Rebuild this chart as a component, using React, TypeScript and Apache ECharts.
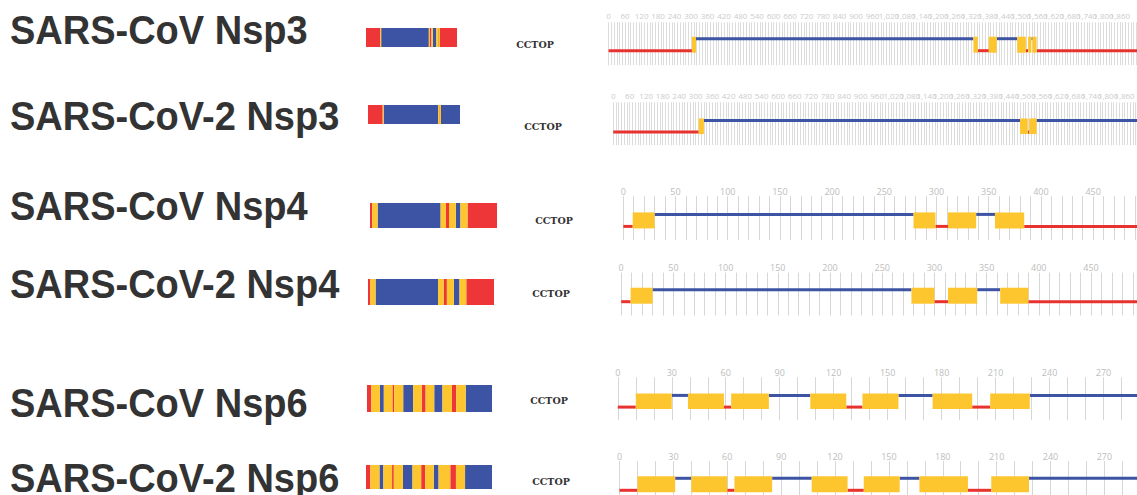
import React, { useEffect, useRef } from "react";
import * as echarts from "echarts";

// ---------- data ----------
const proteinNames = [
  "SARS-CoV Nsp3",
  "SARS-CoV-2 Nsp3",
  "SARS-CoV Nsp4",
  "SARS-CoV-2 Nsp4",
  "SARS-CoV Nsp6",
  "SARS-CoV-2 Nsp6",
];
const proteinLengths = [1922, 1945, 500, 500, 290, 290];
const methodLabel = "CCTOP";
const tickIntervals = [60, 60, 50, 50, 30, 30];
const minorSplits = [6, 6, 5, 5, 3, 3];

// topology segments: [start residue, end residue, state] i = inside, o = outside, m = membrane
type Seg = [number, number, string];
const covNsp3: Seg[] = [
  [0, 303, "i"], [303, 318, "m"], [318, 1327, "o"], [1327, 1343, "m"], [1343, 1383, "i"],
  [1383, 1412, "m"], [1412, 1486, "o"], [1486, 1518, "m"], [1518, 1526, "i"], [1526, 1538, "m"],
  [1538, 1542, "o"], [1542, 1557, "m"], [1557, 1922, "i"],
];
const cov2Nsp3: Seg[] = [
  [0, 311, "i"], [311, 330, "m"], [330, 1480, "o"], [1480, 1508, "m"], [1508, 1513, "i"],
  [1513, 1540, "m"], [1540, 1945, "o"],
];
const covNsp4: Seg[] = [
  [0, 9, "i"], [9, 30, "m"], [30, 278, "o"], [278, 299, "m"], [299, 311, "i"],
  [311, 338, "m"], [338, 356, "o"], [356, 384, "m"], [384, 500, "i"],
];
const cov2Nsp4: Seg[] = [
  [0, 9, "i"], [9, 30, "m"], [30, 278, "o"], [278, 300, "m"], [300, 313, "i"],
  [313, 341, "m"], [341, 363, "o"], [363, 390, "m"], [390, 500, "i"],
];
const covNsp6: Seg[] = [
  [0, 10, "i"], [10, 30, "m"], [30, 39, "o"], [39, 59, "m"], [59, 63, "i"],
  [63, 84, "m"], [84, 107, "o"], [107, 127, "m"], [127, 136, "i"], [136, 156, "m"],
  [156, 175, "o"], [175, 197, "m"], [197, 207, "i"], [207, 229, "m"], [229, 290, "o"],
];
const cov2Nsp6: Seg[] = [
  [0, 10, "i"], [10, 31, "m"], [31, 40, "o"], [40, 60, "m"], [60, 64, "i"],
  [64, 85, "m"], [85, 107, "o"], [107, 127, "m"], [127, 136, "i"], [136, 156, "m"],
  [156, 167, "o"], [167, 194, "m"], [194, 207, "i"], [207, 228, "m"], [228, 290, "o"],
];
const topologies = [covNsp3, cov2Nsp3, covNsp4, cov2Nsp4, covNsp6, cov2Nsp6];

// ---------- layout (pixels) ----------
const W = 1137;
const H = 495;
const layout = [
  { nameY: 30.1, barX: 366, barW: 91, barY: 28, barH: 19, tagX: 535, tagY: 44, x0: 608.6, ppr: 0.2749, tTop: 22.3, tBot: 65.1, blueY: 38.7, redY: 50.7, lblSize: 8, lblMargin: 2.6, lblColor: "#cccccc", gridColor: "#dcdcdc" },
  { nameY: 116.3, barX: 368, barW: 92, barY: 105, barH: 19, tagX: 543, tagY: 126.5, x0: 613.2, ppr: 0.2749, tTop: 102.3, tBot: 145, blueY: 120.4, redY: 132.1, lblSize: 8, lblMargin: 2.6, lblColor: "#cccccc", gridColor: "#dcdcdc" },
  { nameY: 206.3, barX: 370, barW: 127, barY: 203, barH: 25, tagX: 554, tagY: 220, x0: 623.3, ppr: 1.044, tTop: 196.2, tBot: 240.1, blueY: 214.4, redY: 226.4, lblSize: 9, lblMargin: 0.5, lblColor: "#bdbdbd", gridColor: "#d6d6d6" },
  { nameY: 283.8, barX: 368, barW: 126, barY: 279, barH: 26, tagX: 551, tagY: 293.5, x0: 621.2, ppr: 1.044, tTop: 272.6, tBot: 315.4, blueY: 289.7, redY: 301.7, lblSize: 9, lblMargin: 0.5, lblColor: "#bdbdbd", gridColor: "#d6d6d6" },
  { nameY: 403, barX: 367, barW: 125, barY: 385, barH: 27, tagX: 549, tagY: 400, x0: 617.8, ppr: 1.799, tTop: 377.3, tBot: 420.1, blueY: 395.4, redY: 407.1, lblSize: 9, lblMargin: 0, lblColor: "#bdbdbd", gridColor: "#d6d6d6" },
  { nameY: 478, barX: 366, barW: 126, barY: 465, barH: 24, tagX: 551, tagY: 481, x0: 619.5, ppr: 1.796, tTop: 461.2, tBot: 499, blueY: 478.3, redY: 490.3, lblSize: 9, lblMargin: 0, lblColor: "#bdbdbd", gridColor: "#d6d6d6" },
];

const RED = "#E8322F";
const BLUE = "#3D53A4";
const YELLOW = "#FDC62F";
const BAR_RED = "#EE3537";
const stateCode: Record<string, number> = { i: 0, o: 1, m: 2 };

function buildOption() {
  const grid: any[] = [];
  const xAxis: any[] = [];
  const yAxis: any[] = [];
  const series: any[] = [];
  const graphic: any[] = [];

  topologies.forEach((topo, r) => {
    const L = layout[r];
    const len = proteinLengths[r];
    const data = topo.map((s) => [s[0], s[1], stateCode[s[2]]]);

    // ---- overview bar ----
    const gb = grid.length;
    grid.push({ left: L.barX, top: L.barY, width: L.barW, height: L.barH, containLabel: false, outerBoundsMode: "none" });
    xAxis.push({ type: "value", gridIndex: gb, min: 0, max: len, show: false });
    yAxis.push({ type: "value", gridIndex: gb, min: 0, max: 1, show: false });
    series.push({
      type: "custom",
      xAxisIndex: gb,
      yAxisIndex: gb,
      data,
      silent: true,
      renderItem: (params: any, api: any) => {
        const a = api.coord([api.value(0), 0]);
        const b = api.coord([api.value(1), 1]);
        const st = api.value(2);
        const w = Math.max(1, b[0] - a[0]);
        return {
          type: "rect",
          shape: { x: a[0], y: b[1], width: w, height: a[1] - b[1] },
          style: { fill: st === 0 ? BAR_RED : st === 1 ? BLUE : YELLOW },
          z2: st === 2 ? 5 : 1,
        };
      },
    });

    // ---- topology track ----
    const gt = grid.length;
    const interval = tickIntervals[r];
    const visible = (W - L.x0) / L.ppr;
    const maxVal = Math.ceil(visible / interval) * interval + interval;
    const labelLimit = (W - L.x0 - 9) / L.ppr;
    const unit = L.redY - L.blueY;
    grid.push({
      left: L.x0,
      top: L.tTop,
      width: maxVal * L.ppr,
      height: L.tBot - L.tTop,
      containLabel: false,
      outerBoundsMode: "none",
    });
    xAxis.push({
      type: "value",
      gridIndex: gt,
      position: "top",
      min: 0,
      max: maxVal,
      interval,
      axisLine: { show: false },
      axisTick: { show: false },
      axisLabel: {
        show: true,
        fontSize: L.lblSize,
        lineHeight: L.lblSize,
        color: L.lblColor,
        fontFamily: "Open Sans, sans-serif",
        margin: L.lblMargin,
        formatter: (v: number) => (v > labelLimit ? "" : v.toLocaleString("en-US")),
      },
      splitLine: { show: true, lineStyle: { color: L.gridColor, width: 1 } },
      minorTick: { show: false, splitNumber: minorSplits[r] },
      minorSplitLine: { show: true, lineStyle: { color: L.gridColor, width: 1 } },
    });
    yAxis.push({
      type: "value",
      gridIndex: gt,
      min: -(L.tBot - L.redY) / unit,
      max: (L.redY - L.tTop) / unit,
      show: false,
      splitLine: { show: false },
    });
    series.push({
      type: "custom",
      xAxisIndex: gt,
      yAxisIndex: gt,
      data,
      silent: true,
      clip: false,
      renderItem: (params: any, api: any) => {
        const st = api.value(2);
        const lo0 = api.coord([api.value(0), 0]);
        const lo1 = api.coord([api.value(1), 0]);
        const hi0 = api.coord([api.value(0), 1]);
        if (st === 2) {
          return {
            type: "rect",
            shape: { x: lo0[0], y: hi0[1] - 2, width: lo1[0] - lo0[0], height: lo0[1] - hi0[1] + 4 },
            style: { fill: YELLOW },
            z2: 5,
          };
        }
        const y = st === 1 ? hi0[1] : lo0[1];
        return {
          type: "line",
          shape: { x1: lo0[0], y1: y, x2: lo1[0], y2: y },
          style: { stroke: st === 1 ? BLUE : RED, lineWidth: 3, lineCap: "butt" },
          z2: 1,
        };
      },
    });

    // ---- texts ----
    graphic.push({
      type: "text",
      x: 10,
      y: L.nameY,
      scaleY: 1.06,
      silent: true,
      style: {
        text: proteinNames[r],
        fill: "#333333",
        fontSize: 38,
        fontWeight: "bold",
        fontFamily: "Liberation Sans, Arial, sans-serif",
        align: "left",
        verticalAlign: "middle",
        textAlign: "left",
        textVerticalAlign: "middle",
      },
    });
    graphic.push({
      type: "text",
      x: L.tagX,
      y: L.tagY,
      silent: true,
      style: {
        text: methodLabel,
        fill: "#333333",
        fontSize: 9.5,
        fontWeight: "bold",
        fontFamily: "DejaVu Serif, serif",
        align: "center",
        verticalAlign: "middle",
        textAlign: "center",
        textVerticalAlign: "middle",
      },
    });
  });

  return {
    animation: false,
    backgroundColor: "#ffffff",
    grid,
    xAxis,
    yAxis,
    series,
    graphic,
  };
}

export default function App() {
  const ref = useRef<HTMLDivElement>(null);
  useEffect(() => {
    document.body.style.margin = "0";
    if (!ref.current) return;
    const chart = echarts.init(ref.current, null, { renderer: "svg" });
    chart.setOption(buildOption() as any);
    return () => chart.dispose();
  }, []);
  return <div ref={ref} style={{ width: W, height: H, overflow: "hidden" }} />;
}
